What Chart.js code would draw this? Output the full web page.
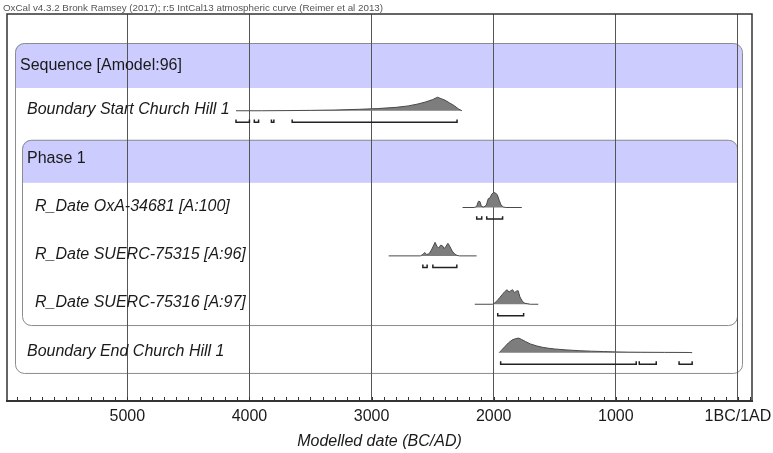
<!DOCTYPE html>
<html>
<head>
<meta charset="utf-8">
<title>OxCal multiplot</title>
<script src="https://cdn.jsdelivr.net/npm/chart.js@4/dist/chart.umd.min.js"></script>
<style>
	html, body { margin: 0; padding: 0; background: #fff; }
	#wrap { width: 773px; height: 453px; }
</style>
</head>
<body>
<div id="wrap"><canvas id="oxcal-chart" width="773" height="453"></canvas></div>
<script>

//axis
var tickYears = [5000, 4000, 3000, 2000, 1000, 0];
var tickLabels = ['5000', '4000', '3000', '2000', '1000', '1BC/1AD'];
var caption = 'OxCal v4.3.2 Bronk Ramsey (2017); r:5 IntCal13 atmospheric curve (Reimer et al 2013)';
var axisTitle = 'Modelled date (BC/AD)';

//group headers
var sequenceLabel = 'Sequence [Amodel:96]';
var phaseLabel = 'Phase 1';

//row labels
var itemLabels = [
	'Boundary Start Church Hill 1',
	'R_Date OxA-34681 [A:100]',
	'R_Date SUERC-75315 [A:96]',
	'R_Date SUERC-75316 [A:97]',
	'Boundary End Church Hill 1'
];

//posterior distributions (years BC, relative probability)
var startYears = [4110, 3900, 3700, 3500, 3300, 3100, 2950, 2800, 2700, 2620, 2560, 2500, 2460, 2430, 2400, 2360, 2320, 2290, 2260];
var startProb  = [0, 0, 0.003, 0.008, 0.015, 0.03, 0.045, 0.07, 0.1, 0.14, 0.18, 0.23, 0.28, 0.25, 0.22, 0.16, 0.1, 0.04, 0];

var oxaYears = [2255, 2160, 2140, 2125, 2112, 2100, 2080, 2060, 2045, 2030, 2015, 2000, 1985, 1970, 1955, 1940, 1920, 1900, 1770];
var oxaProb  = [0, 0, 0.02, 0.13, 0.12, 0.02, 0.01, 0.05, 0.18, 0.2, 0.28, 0.31, 0.3, 0.26, 0.15, 0.05, 0.01, 0, 0];

var s75315Years = [2860, 2600, 2580, 2565, 2550, 2530, 2510, 2495, 2480, 2465, 2450, 2435, 2420, 2405, 2390, 2375, 2360, 2340, 2320, 2300, 2280, 2140];
var s75315Prob  = [0, 0, 0.03, 0.07, 0.03, 0.04, 0.12, 0.2, 0.28, 0.2, 0.16, 0.22, 0.21, 0.15, 0.2, 0.26, 0.2, 0.1, 0.04, 0.01, 0, 0];

var s75316Years = [2155, 2010, 1990, 1970, 1950, 1930, 1910, 1890, 1875, 1860, 1845, 1830, 1815, 1800, 1785, 1765, 1745, 1720, 1700, 1635];
var s75316Prob  = [0, 0, 0.03, 0.08, 0.14, 0.2, 0.26, 0.3, 0.25, 0.28, 0.3, 0.24, 0.27, 0.28, 0.15, 0.06, 0.02, 0.01, 0, 0];

var endYears = [1955, 1940, 1910, 1880, 1850, 1820, 1795, 1770, 1740, 1700, 1650, 1600, 1550, 1500, 1400, 1300, 1200, 1100, 1000, 900, 800, 600, 400, 375];
var endProb  = [0, 0.04, 0.12, 0.2, 0.26, 0.29, 0.3, 0.27, 0.23, 0.18, 0.14, 0.11, 0.09, 0.075, 0.055, 0.04, 0.03, 0.022, 0.015, 0.01, 0.008, 0.005, 0.003, 0];

//95.4% ranges (years BC)
var startRanges  = [[4110, 4000], [3960, 3925], [3820, 3800], [3650, 2300]];
var oxaRanges    = [[2139, 2098], [2057, 1927]];
var s75315Ranges = [[2580, 2545], [2498, 2302]];
var s75316Ranges = [[1967, 1755]];
var endRanges    = [[1943, 833], [808, 669], [482, 375]];


function OxcalPlot() {

	//row positions on the y scale (0 = top)
	var ROWS = [2, 4, 5, 6, 7];
	var RANGE_OFFSET = 0.24;
	var RANGE_TICK = 0.06;

	var FONT = '"Liberation Sans", Arial, sans-serif';

	function distDataset( years, prob, row ) {
		var points = [];
		for ( var n = 0; n < years.length; n++ ) {
			points.push({ x: -years[n], y: row - prob[n] });
		}
		return {
			data: points,
			borderColor: '#4a4a4a',
			borderWidth: 1,
			backgroundColor: '#7d7d7d',
			fill: { value: row },
			pointRadius: 0,
			tension: 0
		};
	}

	function rangeDataset( ranges, row ) {
		var y = row + RANGE_OFFSET,
			points = [];
		for ( var n = 0; n < ranges.length; n++ ) {
			//little bracket: up, across, up
			points.push({ x: -ranges[n][0], y: y - RANGE_TICK });
			points.push({ x: -ranges[n][0], y: y });
			points.push({ x: -ranges[n][1], y: y });
			points.push({ x: -ranges[n][1], y: y - RANGE_TICK });
			points.push({ x: -ranges[n][1], y: null });
		}
		return {
			data: points,
			borderColor: '#222',
			borderWidth: 1.5,
			fill: false,
			pointRadius: 0,
			spanGaps: false,
			tension: 0
		};
	}

	function roundBox( ctx, x, y, w, h, r ) {
		ctx.beginPath();
		ctx.roundRect(x, y, w, h, r);
	}

	var boxesPlugin = {
		id: 'oxcalBoxes',
		beforeDraw: function( chart ) {
			var ctx = chart.ctx,
				area = chart.chartArea,
				yScale = chart.scales.y;

			//group boxes: [left inset, right inset, top, band bottom, bottom]
			var boxes = [
				[8, 10, 0.6, 1.53, 7.42],
				[15, 15, 2.6, 3.49, 6.43]
			];

			ctx.save();
			for ( var n = 0; n < boxes.length; n++ ) {
				var b = boxes[n],
					x = area.left + b[0],
					w = area.right - b[1] - x,
					top = yScale.getPixelForValue(b[2]),
					bandBottom = yScale.getPixelForValue(b[3]),
					bottom = yScale.getPixelForValue(b[4]);

				//lavender header band
				ctx.save();
				roundBox(ctx, x, top, w, bottom - top, 9);
				ctx.clip();
				ctx.fillStyle = '#ccccff';
				ctx.fillRect(x, top, w, bandBottom - top);
				ctx.restore();

				//outline
				roundBox(ctx, x + 0.5, top + 0.5, w, bottom - top, 9);
				ctx.strokeStyle = '#8c8c8c';
				ctx.lineWidth = 1;
				ctx.stroke();
			}
			ctx.restore();
		},
		afterDraw: function( chart ) {
			var ctx = chart.ctx,
				area = chart.chartArea,
				xScale = chart.scales.x,
				yScale = chart.scales.y;

			ctx.save();

			//frame
			ctx.strokeStyle = '#333';
			ctx.lineWidth = 1.5;
			ctx.beginPath();
			ctx.moveTo(area.left, area.bottom);
			ctx.lineTo(area.left, area.top);
			ctx.lineTo(area.right, area.top);
			ctx.lineTo(area.right, area.bottom);
			ctx.stroke();

			//minor ticks every 100 years
			ctx.lineWidth = 1;
			ctx.strokeStyle = '#333';
			ctx.beginPath();
			for ( var yr = -5900; yr <= 100; yr += 100 ) {
				var px = Math.round(xScale.getPixelForValue(yr)) + 0.5;
				ctx.moveTo(px, area.bottom);
				ctx.lineTo(px, area.bottom - 4);
			}
			ctx.stroke();

			//group headers
			ctx.fillStyle = '#1a1a1a';
			ctx.textBaseline = 'middle';
			ctx.textAlign = 'left';
			ctx.font = '16px ' + FONT;
			ctx.fillText(sequenceLabel, area.left + 13, yScale.getPixelForValue(1.07));
			ctx.fillText(phaseLabel, area.left + 20, yScale.getPixelForValue(2.98));

			//row labels
			ctx.font = 'italic 16px ' + FONT;
			var labelInset = [20, 28, 28, 28, 20];
			for ( var n = 0; n < itemLabels.length; n++ ) {
				ctx.fillText(itemLabels[n], area.left + labelInset[n], yScale.getPixelForValue(ROWS[n] - 0.03));
			}

			//caption
			ctx.font = '9.8px ' + FONT;
			ctx.fillStyle = '#555';
			ctx.textBaseline = 'alphabetic';
			ctx.fillText(caption, 3, 11);

			ctx.restore();
		}
	};

	function build() {
		var datasets = [
			distDataset(startYears, startProb, ROWS[0]),
			distDataset(oxaYears, oxaProb, ROWS[1]),
			distDataset(s75315Years, s75315Prob, ROWS[2]),
			distDataset(s75316Years, s75316Prob, ROWS[3]),
			distDataset(endYears, endProb, ROWS[4]),
			rangeDataset(startRanges, ROWS[0]),
			rangeDataset(oxaRanges, ROWS[1]),
			rangeDataset(s75315Ranges, ROWS[2]),
			rangeDataset(s75316Ranges, ROWS[3]),
			rangeDataset(endRanges, ROWS[4])
		];

		var ctx = document.getElementById('oxcal-chart').getContext('2d');
		new Chart(ctx, {
			type: 'line',
			data: { datasets: datasets },
			options: {
				responsive: false,
				animation: false,
				layout: { padding: { top: 14, left: 7, right: 21, bottom: 0 } },
				plugins: {
					legend: { display: false },
					tooltip: { enabled: false }
				},
				scales: {
					x: {
						type: 'linear',
						min: -5985,
						max: 115,
						afterBuildTicks: function( scale ) {
							scale.ticks = tickYears.map(function( v ) { return { value: -v }; });
						},
						afterFit: function( scale ) {
							scale.height = 52;
							//let the last label hang past the plot edge
							scale.paddingLeft = 0;
							scale.paddingRight = 0;
						},
						grid: {
							color: '#555',
							lineWidth: 1,
							drawTicks: false
						},
						border: { color: '#333', width: 2 },
						ticks: {
							padding: 6,
							color: '#1a1a1a',
							font: { family: FONT, size: 16 },
							maxRotation: 0,
							autoSkip: false,
							callback: function( value ) {
								var i = tickYears.indexOf(-value);
								return i >= 0 ? tickLabels[i] : '';
							}
						},
						title: {
							display: true,
							text: axisTitle,
							color: '#1a1a1a',
							font: { family: FONT, size: 16, style: 'italic' },
							padding: { top: 4, bottom: 2 }
						}
					},
					y: {
						type: 'linear',
						display: false,
						reverse: true,
						min: 0,
						max: 8
					}
				}
			},
			plugins: [boxesPlugin]
		});
	}

	build();
}

OxcalPlot();
</script>
</body>
</html>
